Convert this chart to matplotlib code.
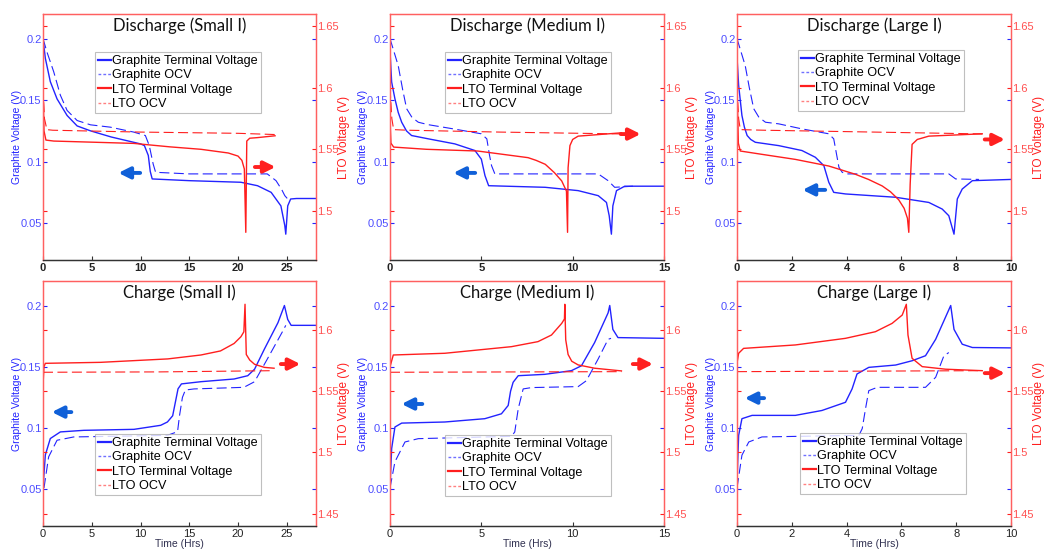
import matplotlib
matplotlib.use("Agg")
import matplotlib.pyplot as plt
from matplotlib.lines import Line2D

plt.rcParams["font.family"] = ["Liberation Sans", "DejaVu Sans"]

# ---- Discharge, small current ----
ds_gt_t = [0, 0.24, 0.75, 1.44, 2.47, 3.5, 4.87, 7.0, 10.0, 10.4, 10.8, 11.0, 11.2, 15.0, 20.3, 22.0, 23.4, 24.4, 24.8, 24.9, 25.1, 25.4, 26.0, 28.0]
ds_gt_v = [0.2, 0.184, 0.165, 0.151, 0.1375, 0.129, 0.125, 0.120, 0.1144, 0.113, 0.105, 0.092, 0.0859, 0.0845, 0.0832, 0.0804, 0.075, 0.064, 0.048, 0.041, 0.064, 0.0696, 0.070, 0.070]
ds_go_t = [0, 0.41, 1.1, 1.78, 2.47, 3.5, 4.87, 6.9, 9.3, 10.5, 10.9, 11.3, 11.55, 15.0, 23.0, 23.9, 24.5, 24.8, 25.1]
ds_go_v = [0.2, 0.189, 0.173, 0.154, 0.1416, 0.1334, 0.1299, 0.128, 0.124, 0.1212, 0.113, 0.098, 0.0913, 0.090, 0.090, 0.0845, 0.077, 0.0723, 0.0696]
ds_lt_t = [0, 0.1, 0.3, 1.1, 5.0, 9.3, 13.0, 16.2, 19.0, 20.0, 20.4, 20.65, 20.8, 20.9, 21.2, 22.0, 23.8]
ds_lt_v = [1.60, 1.565, 1.5575, 1.5567, 1.5558, 1.5548, 1.552, 1.550, 1.547, 1.5445, 1.541, 1.534, 1.4825, 1.5567, 1.559, 1.5595, 1.561]
ds_lo_t = [0, 0.15, 0.4, 1.0, 10.0, 20.0, 23.8]
ds_lo_v = [1.60, 1.575, 1.566, 1.5655, 1.564, 1.563, 1.562]

# ---- Discharge, medium current ----
dm_gt_t = [0, 0.09, 0.27, 0.45, 0.64, 0.9, 1.18, 2.1, 3.55, 4.65, 5.0, 5.2, 5.4, 8.5, 10.3, 11.4, 11.85, 12.0, 12.12, 12.2, 12.4, 12.85, 15.0]
dm_gt_v = [0.19, 0.1647, 0.151, 0.140, 0.132, 0.125, 0.1212, 0.1185, 0.1144, 0.109, 0.102, 0.0886, 0.0804, 0.0791, 0.0764, 0.0723, 0.0668, 0.056, 0.041, 0.064, 0.0764, 0.080, 0.080]
dm_go_t = [0, 0.45, 0.7, 0.91, 1.2, 1.55, 2.1, 3.55, 5.0, 5.3, 5.45, 5.56, 5.74, 11.4, 11.94, 12.3, 13.3]
dm_go_v = [0.2, 0.178, 0.158, 0.143, 0.136, 0.132, 0.130, 0.1264, 0.1226, 0.1185, 0.105, 0.0967, 0.090, 0.090, 0.0845, 0.0791, 0.080]
dm_lt_t = [0, 0.05, 0.2, 2.0, 4.8, 7.56, 8.0, 8.5, 9.0, 9.4, 9.66, 9.72, 9.75, 9.85, 10.0, 10.3, 12.67]
dm_lt_v = [1.575, 1.555, 1.5518, 1.550, 1.5486, 1.5432, 1.541, 1.5378, 1.531, 1.5243, 1.516, 1.4825, 1.535, 1.553, 1.558, 1.5607, 1.5634]
dm_lo_t = [0, 0.1, 0.2, 1.0, 6.0, 12.67]
dm_lo_v = [1.60, 1.575, 1.566, 1.5655, 1.564, 1.5625]

# ---- Discharge, large current ----
dl_gt_t = [0, 0.06, 0.18, 0.27, 0.37, 0.5, 0.67, 1.52, 2.37, 2.86, 3.17, 3.35, 3.53, 3.96, 5.79, 7.0, 7.49, 7.73, 7.92, 8.04, 8.22, 8.59, 10.0]
dl_gt_v = [0.185, 0.162, 0.1375, 0.128, 0.1212, 0.118, 0.1157, 0.113, 0.109, 0.1035, 0.0967, 0.0832, 0.075, 0.0737, 0.071, 0.0668, 0.0614, 0.056, 0.041, 0.0696, 0.0777, 0.0845, 0.0855]
dl_go_t = [0, 0.3, 0.45, 0.61, 0.8, 1.04, 1.52, 2.37, 3.35, 3.53, 3.72, 3.84, 4.0, 7.73, 7.98, 8.83]
dl_go_v = [0.2, 0.178, 0.16, 0.143, 0.136, 0.132, 0.1307, 0.1266, 0.1226, 0.1185, 0.0954, 0.0913, 0.090, 0.090, 0.0859, 0.0855]
dl_lt_t = [0, 0.05, 0.12, 0.91, 2.13, 3.35, 4.32, 4.8, 5.3, 5.6, 5.9, 6.1, 6.22, 6.27, 6.32, 6.39, 6.58, 7.0, 8.95]
dl_lt_v = [1.60, 1.555, 1.5486, 1.5459, 1.5418, 1.5364, 1.5297, 1.5255, 1.5202, 1.5155, 1.509, 1.502, 1.494, 1.4825, 1.5216, 1.554, 1.558, 1.5607, 1.5626]
dl_lo_t = [0, 0.06, 0.12, 1.0, 5.0, 8.95]
dl_lo_v = [1.60, 1.575, 1.566, 1.5655, 1.564, 1.5625]

# ---- Charge, small current ----
cs_gt_t = [0, 0.24, 0.75, 1.78, 4.18, 9.33, 12.07, 12.76, 13.3, 13.6, 13.85, 14.2, 16.2, 19.6, 21.0, 21.7, 22.7, 24.1, 24.76, 25.1, 25.45, 28.0]
cs_gt_v = [0.051, 0.078, 0.0914, 0.0968, 0.0981, 0.0989, 0.1022, 0.1049, 0.110, 0.122, 0.132, 0.136, 0.1378, 0.140, 0.1427, 0.148, 0.1643, 0.186, 0.2, 0.1886, 0.1838, 0.1838]
cs_go_t = [0.1, 0.58, 1.44, 3.16, 12.76, 13.8, 14.0, 14.3, 14.6, 15.5, 20.6, 21.7, 23.0, 24.6, 24.9]
cs_go_v = [0.051, 0.0765, 0.090, 0.0927, 0.094, 0.097, 0.110, 0.125, 0.131, 0.1319, 0.1332, 0.1378, 0.1562, 0.1792, 0.1838]
cs_lt_t = [0, 0.1, 0.24, 5.9, 12.8, 16.2, 18.2, 19.6, 20.3, 20.6, 20.72, 20.85, 21.2, 21.7, 22.7, 23.7]
cs_lt_v = [1.555, 1.570, 1.5728, 1.5736, 1.5764, 1.5796, 1.5829, 1.589, 1.5945, 1.5985, 1.621, 1.580, 1.5755, 1.572, 1.5695, 1.5688]
cs_lo_t = [0, 12.0, 23.7]
cs_lo_v = [1.5655, 1.5658, 1.5668]

# ---- Charge, medium current ----
cm_gt_t = [0, 0.09, 0.27, 0.64, 3.0, 5.19, 6.1, 6.47, 6.6, 6.74, 7.02, 8.47, 9.93, 10.48, 11.2, 11.94, 12.03, 12.2, 12.48, 15.0]
cm_gt_v = [0.051, 0.0832, 0.1008, 0.104, 0.1049, 0.1076, 0.1116, 0.1184, 0.130, 0.1373, 0.1427, 0.1438, 0.1468, 0.1508, 0.1697, 0.194, 0.2, 0.1805, 0.1738, 0.1732]
cm_go_t = [0, 0.27, 0.82, 1.55, 6.65, 6.83, 7.02, 7.29, 7.75, 10.3, 10.75, 11.39, 11.94, 12.1]
cm_go_v = [0.051, 0.0724, 0.0886, 0.0913, 0.0932, 0.0968, 0.1157, 0.1319, 0.133, 0.1338, 0.1386, 0.1562, 0.1724, 0.1732]
cm_lt_t = [0, 0.18, 3.0, 6.65, 8.1, 8.84, 9.4, 9.55, 9.57, 9.62, 9.75, 9.95, 10.3, 11.2, 12.67]
cm_lt_v = [1.570, 1.5796, 1.581, 1.5864, 1.5905, 1.5959, 1.6054, 1.609, 1.621, 1.592, 1.580, 1.5745, 1.5715, 1.5688, 1.5666]
cm_lo_t = [0, 12.67]
cm_lo_v = [1.5655, 1.566]

# ---- Charge, large current ----
cl_gt_t = [0, 0.06, 0.18, 0.55, 2.13, 3.1, 3.96, 4.2, 4.38, 4.81, 5.79, 6.39, 6.88, 7.25, 7.8, 7.92, 8.22, 8.59, 10.0]
cl_gt_v = [0.056, 0.094, 0.1076, 0.1103, 0.1103, 0.1143, 0.121, 0.1319, 0.1441, 0.1495, 0.1514, 0.1549, 0.159, 0.1724, 0.2, 0.1805, 0.1684, 0.1657, 0.1654]
cl_go_t = [0, 0.18, 0.43, 0.91, 4.45, 4.57, 4.69, 4.81, 5.12, 6.88, 7.25, 7.55, 7.73]
cl_go_v = [0.051, 0.0778, 0.0886, 0.0927, 0.094, 0.0995, 0.1157, 0.1305, 0.1332, 0.1332, 0.1414, 0.1589, 0.1616]
cl_lt_t = [0, 0.06, 0.24, 2.13, 3.96, 5.05, 5.66, 6.03, 6.18, 6.24, 6.39, 6.76, 7.61, 8.95]
cl_lt_v = [1.573, 1.581, 1.585, 1.5878, 1.5932, 1.5986, 1.6054, 1.6122, 1.621, 1.5959, 1.5769, 1.5701, 1.568, 1.5668]
cl_lo_t = [0, 8.95]
cl_lo_v = [1.566, 1.5668]

titles = ["Discharge (Small I)", "Discharge (Medium I)", "Discharge (Large I)",
          "Charge (Small I)", "Charge (Medium I)", "Charge (Large I)"]
x_max = [28, 15, 10, 28, 15, 10]
x_ticks = [[0, 5, 10, 15, 20, 25], [0, 5, 10, 15], [0, 2, 4, 6, 8, 10]] * 2
g_ticks = [0.05, 0.1, 0.15, 0.2]
lto_ticks_top = [1.5, 1.55, 1.6, 1.65]
lto_ticks_bot = [1.45, 1.5, 1.55, 1.6]
legend_labels = ["Graphite Terminal Voltage", "Graphite OCV", "LTO Terminal Voltage", "LTO OCV"]

curves = [
    (ds_gt_t, ds_gt_v, ds_go_t, ds_go_v, ds_lt_t, ds_lt_v, ds_lo_t, ds_lo_v),
    (dm_gt_t, dm_gt_v, dm_go_t, dm_go_v, dm_lt_t, dm_lt_v, dm_lo_t, dm_lo_v),
    (dl_gt_t, dl_gt_v, dl_go_t, dl_go_v, dl_lt_t, dl_lt_v, dl_lo_t, dl_lo_v),
    (cs_gt_t, cs_gt_v, cs_go_t, cs_go_v, cs_lt_t, cs_lt_v, cs_lo_t, cs_lo_v),
    (cm_gt_t, cm_gt_v, cm_go_t, cm_go_v, cm_lt_t, cm_lt_v, cm_lo_t, cm_lo_v),
    (cl_gt_t, cl_gt_v, cl_go_t, cl_go_v, cl_lt_t, cl_lt_v, cl_lo_t, cl_lo_v),
]

BLUE = "#2323ff"
RED = "#ff1e1e"
BLUE_TXT = "#4d4dff"
RED_TXT = "#ff5050"
RED_SPINE = "#ff6060"
ARROW_BLUE = "#1060d8"
ARROW_RED = "#ff2020"

W, H = 1044, 552
# axes boxes in pixels: left, top, right, bottom
cols = [(43, 316), (390, 664), (737, 1011)]
rows = [(14, 260), (281, 526)]
# legend upper-left corners in pixels
legend_pos = [(95, 52), (445, 52), (798, 50), (95, 434), (445, 435), (800, 433)]
# arrows in axes fraction: (tail, head)
blue_arrows = [((0.366, 0.354), (0.266, 0.354)), ((0.321, 0.354), (0.221, 0.354)),
               ((0.332, 0.285), (0.229, 0.285)), ((0.114, 0.465), (0.022, 0.465)),
               ((0.128, 0.498), (0.032, 0.498)), ((0.109, 0.522), (0.018, 0.522))]
red_arrows = [((0.766, 0.378), (0.862, 0.378)), ((0.832, 0.512), (0.925, 0.512)),
              ((0.894, 0.490), (0.988, 0.490)), ((0.861, 0.661), (0.953, 0.661)),
              ((0.876, 0.661), (0.970, 0.661)), ((0.894, 0.624), (0.988, 0.624))]

fig = plt.figure(figsize=(W / 100, H / 100), dpi=100)

for i in range(6):
    r, c = divmod(i, 3)
    x0, x1 = cols[c]
    y0, y1 = rows[r]
    ax = fig.add_axes([x0 / W, 1 - y1 / H, (x1 - x0) / W, (y1 - y0) / H])
    ax2 = ax.twinx()
    gt_t, gt_v, go_t, go_v, lt_t, lt_v, lo_t, lo_v = curves[i]

    ax.plot(gt_t, gt_v, color=BLUE, lw=1.0)
    ax.plot(go_t, go_v, color=BLUE, lw=0.8, dashes=(9, 4))
    ax2.plot(lt_t, lt_v, color=RED, lw=1.0)
    ax2.plot(lo_t, lo_v, color=RED, lw=0.8, dashes=(9, 4))

    ax.set_xlim(0, x_max[i])
    ax.set_xticks(x_ticks[i])
    ax.set_ylim(0.02, 0.22)
    ax.set_yticks(g_ticks)
    ax.set_yticklabels(["0.05", "0.1", "0.15", "0.2"])
    if r == 0:
        ax2.set_ylim(1.46, 1.66)
        ax2.set_yticks(lto_ticks_top)
        ax2.set_yticklabels(["1.5", "1.55", "1.6", "1.65"])
    else:
        ax2.set_ylim(1.44, 1.64)
        ax2.set_yticks(lto_ticks_bot)
        ax2.set_yticklabels(["1.45", "1.5", "1.55", "1.6"])

    ax.tick_params(axis="y", direction="in", left=True, right=True, length=3,
                   color=BLUE, labelcolor=BLUE_TXT, labelsize=8, pad=1)
    ax2.tick_params(axis="y", direction="in", left=True, right=True, length=3,
                    color=RED, labelcolor=RED_TXT, labelsize=8, pad=0.5)
    ax.tick_params(axis="x", direction="in", length=3, color="#333333",
                   labelcolor="#222222", labelsize=8, pad=2)
    if r == 0:
        for lab in ax.get_xticklabels():
            lab.set_fontweight("bold")
    else:
        ax.set_xlabel("Time (Hrs)", fontsize=7.5, color="#303050", labelpad=0)

    for a in (ax, ax2):
        for side in ("left", "right", "top"):
            a.spines[side].set_color(RED_SPINE)
            a.spines[side].set_linewidth(0.9)
        a.spines["bottom"].set_color("#333333")
        a.spines["bottom"].set_linewidth(0.9)

    ax.set_ylabel("Graphite Voltage (V)", color=BLUE, fontsize=7.5, labelpad=-1)
    ax2.set_ylabel("LTO Voltage (V)", color=RED, fontsize=8.5, labelpad=0)

    ax2.text(0.5, 0.985, titles[i], transform=ax.transAxes, ha="center", va="top",
             fontsize=12, family=["Lato", "DejaVu Sans"], color="#111111")

    ax2.annotate("", xy=blue_arrows[i][1], xytext=blue_arrows[i][0], xycoords="axes fraction",
                 arrowprops=dict(arrowstyle="-|>", lw=2.8, color=ARROW_BLUE, mutation_scale=17))
    ax2.annotate("", xy=red_arrows[i][1], xytext=red_arrows[i][0], xycoords="axes fraction",
                 arrowprops=dict(arrowstyle="-|>", lw=2.8, color=ARROW_RED, mutation_scale=17))

    handles = [Line2D([], [], color=BLUE, lw=1.6),
               Line2D([], [], color="#7070ff", lw=1.0, dashes=(2, 1.5)),
               Line2D([], [], color=RED, lw=1.6),
               Line2D([], [], color="#ff8080", lw=1.0, dashes=(2, 1.5))]
    lx, ly = legend_pos[i]
    leg = ax2.legend(handles, legend_labels, loc="upper left",
                     bbox_to_anchor=(lx / W, 1 - ly / H), bbox_transform=fig.transFigure,
                     fontsize=9.1, frameon=True, fancybox=False, borderaxespad=0,
                     borderpad=0.25, handlelength=1.0, handletextpad=0.1, labelspacing=0.18)
    leg.get_frame().set_edgecolor("#b0b0b0")
    leg.get_frame().set_linewidth(0.8)

fig.savefig("out.png", dpi=100)
